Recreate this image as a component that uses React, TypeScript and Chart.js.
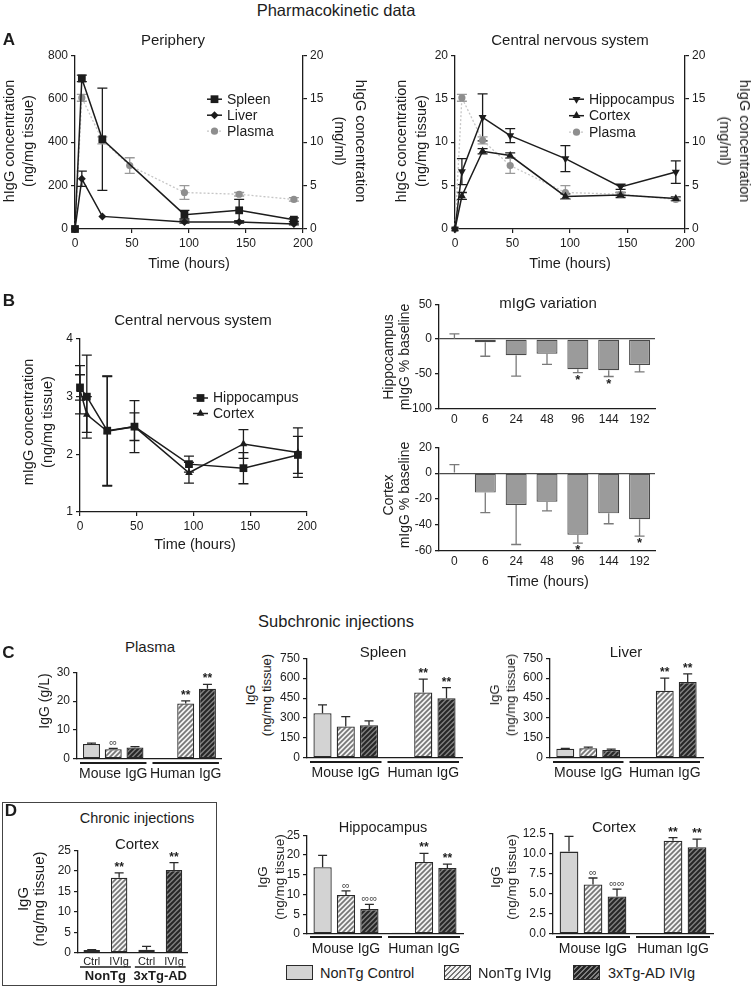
import React, { useEffect, useRef } from 'react';
import { Chart, registerables } from 'chart.js';

Chart.register(...registerables);

const FONT = '"Liberation Sans", Arial, Helvetica, sans-serif';
const INK = '#1c1c1c';

// ---------------- data ----------------
const TIMES = [0, 6, 24, 48, 96, 144, 192];
const TIMES_NO48 = [0, 6, 24, 96, 144, 192];
const TIME_LABELS = ['0', '6', '24', '48', '96', '144', '192'];

// A – periphery, hIgG (ng/mg tissue) and plasma (mg/ml)
const spleenHIgG = [0, 693, 413, 66, 86, 43];
const spleenHIgGErr = [0, 15, 235, 20, 50, 8];
const liverHIgG = [0, 231, 58, 32, 32, 23];
const liverHIgGErr = [0, 35, 0, 5, 5, 4];
const plasmaHIgG = [0, 15.1, 10.2, 7.3, 4.2, 4.0, 3.4];
const plasmaHIgGErr = [0, 0.4, 0.4, 0.9, 0.8, 0.2, 0.2];

// A – central nervous system, hIgG (ng/mg tissue)
const hippoHIgG = [0, 6.6, 12.85, 10.75, 8.1, 4.85, 6.55];
const hippoHIgGErr = [0, 1.5, 2.7, 0.8, 1.5, 0.3, 1.3];
const cortexHIgG = [0, 3.8, 8.95, 8.45, 3.75, 3.9, 3.5];
const cortexHIgGErr = [0, 0.4, 0.3, 0.3, 0.3, 0.3, 0.2];

// B – mIgG (ng/mg tissue)
const hippoMIgG = [3.16, 3.0, 2.41, 2.48, 1.83, 1.76, 1.99];
const hippoMIgGErr = [0.22, 0.72, 0.95, 0.45, 0.14, 0.27, 0.32];
const cortexMIgG = [3.12, 2.69, 2.4, 2.48, 1.68, 2.18, 2.03];
const cortexMIgGErr = [0.42, 0.31, 0.95, 0.24, 0.18, 0.25, 0.43];

// B – mIgG variation (% baseline)
const hippoVar = [0.5, -4.5, -23, -21, -43, -44.5, -37];
const hippoVarErr = [7, 20, 30, 15, 5, 9, 10];
const hippoVarSig = ['', '', '', '', '*', '*', ''];
const cortexVar = [0.5, -15, -24.5, -22, -47.5, -31, -35.5];
const cortexVarErr = [6, 15.5, 30.5, 7, 6.5, 8, 13];
const cortexVarSig = ['', '', '', '', '*', '', '*'];

// C / D – grouped bars: series x [Mouse IgG, Human IgG]
const IGG_GROUPS = ['Mouse IgG', 'Human IgG'];
const SERIES = ['NonTg Control', 'NonTg IVIg', '3xTg-AD IVIg'];

const plasmaVals = [[5.2, 0], [3.4, 19.2], [4.0, 24.3]];
const plasmaErrs = [[0.3, 0], [0.3, 0.9], [0.3, 1.5]];
const plasmaSig = [['', ''], ['∞', '**'], ['', '**']];

const spleenVals = [[336, 0], [237, 493], [247, 449]];
const spleenErrs = [[63, 0], [74, 100], [32, 80]];
const spleenSig = [['', ''], ['', '**'], ['', '**']];

const liverVals = [[69, 3], [74, 505], [61, 571]];
const liverErrs = [[4, 0], [8, 95], [5, 61]];
const liverSig = [['', ''], ['', '**'], ['', '**']];

const hippoVals = [[16.9, 0.3], [9.9, 18.2], [6.3, 16.7]];
const hippoErrs = [[3.0, 0], [1.0, 2.2], [1.2, 1.0]];
const hippoSig = [['', ''], ['∞', '**'], ['∞∞', '**']];

const cortexVals = [[10.3, 0], [6.2, 11.65], [4.7, 10.85]];
const cortexErrs = [[1.9, 0], [0.8, 0.4], [0.9, 1.0]];
const cortexSig = [['', ''], ['∞', '**'], ['∞∞', '**']];

// D – chronic injections, cortex
const CHRONIC_GROUPS = ['NonTg', '3xTg-AD'];
const chronicCtrl = [0.7, 0.8];
const chronicCtrlErr = [0.1, 0.8];
const chronicIvig = [18.3, 20.2];
const chronicIvigErr = [1.2, 1.8];
const chronicIvigSig = ['**', '**'];

// ---------------- drawing helpers ----------------
function makeHatch(bg: string, fg: string, size: number, lw: number) {
  const c = document.createElement('canvas');
  c.width = size;
  c.height = size;
  const g = c.getContext('2d')!;
  g.fillStyle = bg;
  g.fillRect(0, 0, size, size);
  g.strokeStyle = fg;
  g.lineWidth = lw;
  g.beginPath();
  g.moveTo(-1, size + 1);
  g.lineTo(size + 1, -1);
  g.moveTo(-1, 1);
  g.lineTo(1, -1);
  g.moveTo(size - 1, size + 1);
  g.lineTo(size + 1, size - 1);
  g.stroke();
  return g.createPattern(c, 'repeat')!;
}

let FILLS: any = null;
function getFills() {
  if (!FILLS) {
    FILLS = {
      ctrl: '#d3d3d3',
      ctrlDark: '#8a8a8a',
      light: makeHatch('#f2f2f2', '#767676', 5, 1.7),
      dark: makeHatch('#7e7e7e', '#262626', 5, 2),
    };
  }
  return FILLS;
}

function drawMarker(ctx: CanvasRenderingContext2D, style: string, x: number, y: number, r: number, rotDeg: number, fill: string) {
  ctx.save();
  ctx.beginPath();
  const rad = ((rotDeg || 0) * Math.PI) / 180;
  if (style === 'circle') ctx.arc(x, y, r, 0, Math.PI * 2);
  else if (style === 'rect') {
    const s = Math.SQRT1_2 * r;
    ctx.rect(x - s, y - s, 2 * s, 2 * s);
  } else if (style === 'rectRot') {
    ctx.moveTo(x - r, y);
    ctx.lineTo(x, y - r);
    ctx.lineTo(x + r, y);
    ctx.lineTo(x, y + r);
    ctx.closePath();
  } else {
    for (let k = 0; k < 3; k++) {
      const a = rad + (k * 2 * Math.PI) / 3;
      const px = x + Math.sin(a) * r;
      const py = y - Math.cos(a) * r;
      if (k) ctx.lineTo(px, py);
      else ctx.moveTo(px, py);
    }
    ctx.closePath();
  }
  ctx.fillStyle = fill;
  ctx.fill();
  ctx.restore();
}

function valOf(raw: any) {
  return raw != null && typeof raw === 'object' ? raw.y : raw;
}

function drawErrors(chart: any) {
  const ctx = chart.ctx;
  chart.data.datasets.forEach((ds: any, di: number) => {
    if (!ds.errors) return;
    const meta = chart.getDatasetMeta(di);
    const ys = chart.scales[meta.yAxisID];
    ctx.save();
    ctx.strokeStyle = ds.errorColor || INK;
    ctx.lineWidth = ds.errorWidth || 1.3;
    meta.data.forEach((el: any, i: number) => {
      const e = ds.errors[i];
      const v = valOf(ds.data[i]);
      if (v == null || !e) return;
      const cap = ds.capWidth || 10;
      const ends = ds.errorMode === 'out' ? [v >= 0 ? v + e : v - e] : [v + e, v - e];
      ctx.beginPath();
      const y0 = ys.getPixelForValue(v);
      for (const end of ends) {
        const y1 = ys.getPixelForValue(end);
        ctx.moveTo(el.x, y0);
        ctx.lineTo(el.x, y1);
        ctx.moveTo(el.x - cap / 2, y1);
        ctx.lineTo(el.x + cap / 2, y1);
      }
      ctx.stroke();
    });
    ctx.restore();
  });
}

const errorBarPlugin = {
  id: 'errbars',
  beforeDatasetsDraw(chart: any) {
    if (chart.config.type === 'line') drawErrors(chart);
  },
  afterDatasetsDraw(chart: any) {
    if (chart.config.type !== 'line') drawErrors(chart);
  },
};

const marksPlugin = {
  id: 'marks',
  afterDatasetsDraw(chart: any) {
    const ctx = chart.ctx;
    chart.data.datasets.forEach((ds: any, di: number) => {
      if (!ds.marks) return;
      const meta = chart.getDatasetMeta(di);
      const ys = chart.scales[meta.yAxisID];
      meta.data.forEach((el: any, i: number) => {
        const m = ds.marks[i];
        if (!m) return;
        const v = valOf(ds.data[i]);
        const e = (ds.errors && ds.errors[i]) || 0;
        const star = m.indexOf('*') >= 0;
        ctx.save();
        ctx.font = star ? `bold ${ds.starSize || 12}px ${FONT}` : `11px ${FONT}`;
        ctx.fillStyle = star ? INK : '#4a4a4a';
        ctx.textAlign = 'center';
        if (v >= 0) {
          ctx.textBaseline = 'alphabetic';
          ctx.fillText(m, el.x, ys.getPixelForValue(v + e) - 2);
        } else {
          ctx.textBaseline = 'top';
          ctx.fillText(m, el.x, ys.getPixelForValue(v - e) + 1);
        }
        ctx.restore();
      });
    });
  },
};

const groupLinePlugin = {
  id: 'groupLines',
  afterDraw(chart: any, _a: any, o: any) {
    if (!o || o.offset == null) return;
    const ctx = chart.ctx;
    const xs = chart.scales.x;
    const n = xs.ticks.length;
    const w = xs.width / n;
    const y = chart.chartArea.bottom + o.offset;
    ctx.save();
    ctx.strokeStyle = INK;
    ctx.lineWidth = o.width || 2;
    for (let i = 0; i < n; i++) {
      const cx = xs.getPixelForTick(i);
      ctx.beginPath();
      ctx.moveTo(cx - w / 2 + o.inset, y);
      ctx.lineTo(cx + w / 2 - o.inset, y);
      ctx.stroke();
    }
    ctx.restore();
  },
};

const subLabelPlugin = {
  id: 'subLabels',
  afterDraw(chart: any, _a: any, o: any) {
    if (!o || o.offset == null) return;
    const ctx = chart.ctx;
    chart.data.datasets.forEach((ds: any, di: number) => {
      if (!ds.subLabel) return;
      const meta = chart.getDatasetMeta(di);
      meta.data.forEach((el: any) => {
        ctx.save();
        ctx.font = `${o.size}px ${FONT}`;
        ctx.fillStyle = INK;
        ctx.textAlign = 'center';
        ctx.textBaseline = 'middle';
        ctx.fillText(ds.subLabel, el.x, chart.chartArea.bottom + o.offset);
        ctx.restore();
      });
    });
  },
};

const inLegendPlugin = {
  id: 'inLegend',
  afterDraw(chart: any, _a: any, o: any) {
    if (!o || o.x == null) return;
    const { ctx, chartArea } = chart;
    chart.data.datasets.forEach((ds: any, i: number) => {
      const y = chartArea.top + o.y + i * o.dy;
      const x0 = chartArea.left + o.x;
      ctx.save();
      ctx.strokeStyle = ds.borderColor;
      ctx.lineWidth = ds.borderWidth;
      ctx.setLineDash(ds.borderDash || []);
      ctx.beginPath();
      ctx.moveTo(x0, y);
      ctx.lineTo(x0 + o.len, y);
      ctx.stroke();
      ctx.setLineDash([]);
      drawMarker(ctx, ds.pointStyle, x0 + o.len / 2, y, ds.pointRadius, ds.pointRotation, ds.pointBackgroundColor);
      ctx.fillStyle = INK;
      ctx.font = `${o.size}px ${FONT}`;
      ctx.textBaseline = 'middle';
      ctx.textAlign = 'left';
      ctx.fillText(ds.label, x0 + o.len + o.gap, y + 0.5);
      ctx.restore();
    });
  },
};

const PLUGINS = [errorBarPlugin, marksPlugin, groupLinePlugin, subLabelPlugin, inLegendPlugin];

// ---------------- option builders ----------------
const tickFont = () => ({ family: FONT, size: 12 });

function base(padding: any, scales: any, extra: any = {}) {
  return {
    responsive: false,
    animation: false,
    devicePixelRatio: 1,
    events: [],
    layout: { padding: { left: 0, right: 0, top: 0, bottom: 0, ...padding } },
    plugins: { legend: { display: false }, tooltip: { enabled: false }, title: { display: false }, ...extra },
    scales,
  };
}

function linY(min: number, max: number, step: number, width: number, cb?: any, grid?: any) {
  return {
    type: 'linear',
    min,
    max,
    ticks: { stepSize: step, font: tickFont(), color: INK, padding: 3, ...(cb ? { callback: cb } : {}) },
    grid: grid || { drawOnChartArea: false, drawTicks: true, tickLength: 4, color: INK, lineWidth: 1.2 },
    border: { display: true, color: INK, width: 1.3 },
    afterFit: (s: any) => {
      s.width = width;
    },
  };
}

function lineX(height: number) {
  return {
    type: 'linear',
    min: 0,
    max: 200,
    ticks: { stepSize: 50, font: tickFont(), color: INK, padding: 3 },
    grid: { drawOnChartArea: false, drawTicks: true, tickLength: 4, color: INK, lineWidth: 1.2 },
    border: { display: true, color: INK, width: 1.3 },
    afterFit: (s: any) => {
      s.height = height;
    },
  };
}

function catAxis(height: number, font: any, padding: number) {
  return {
    type: 'category',
    ticks: { font, color: INK, padding, maxRotation: 0, minRotation: 0, autoSkip: false },
    grid: { display: false, drawTicks: false, tickLength: 0 },
    border: { display: true, color: INK, width: 1.3 },
    afterFit: (s: any) => {
      s.height = height;
    },
  };
}

function lineDs(label: string, xs: number[], ys: number[], errs: number[], shape: string, r: number, extra: any = {}) {
  return {
    label,
    data: xs.map((x, i) => ({ x, y: ys[i] })),
    errors: errs,
    yAxisID: 'y',
    borderColor: INK,
    backgroundColor: INK,
    pointBackgroundColor: INK,
    pointBorderWidth: 0,
    borderWidth: 1.5,
    pointStyle: shape,
    pointRadius: r,
    pointRotation: 0,
    clip: false,
    tension: 0,
    errorColor: INK,
    capWidth: 10,
    ...extra,
  };
}

const PLASMA_STYLE = {
  yAxisID: 'y2',
  borderColor: '#c6c6c6',
  borderWidth: 1.3,
  borderDash: [2, 2],
  pointBackgroundColor: '#8e8e8e',
  backgroundColor: '#8e8e8e',
  errorColor: '#9a9a9a',
};

const periphery = () => ({
  type: 'line',
  data: {
    datasets: [
      lineDs('Spleen', TIMES_NO48, spleenHIgG, spleenHIgGErr, 'rect', 5.5),
      lineDs('Liver', TIMES_NO48, liverHIgG, liverHIgGErr, 'rectRot', 4),
      lineDs('Plasma', TIMES, plasmaHIgG, plasmaHIgGErr, 'circle', 3.6, PLASMA_STYLE),
    ],
  },
  options: base(
    { top: 10 },
    { x: lineX(51), y: linY(0, 800, 200, 75), y2: { ...linY(0, 20, 5, 73), position: 'right' } },
    { inLegend: { x: 132, y: 44, dy: 16, len: 15, gap: 5, size: 14 } }
  ),
  plugins: PLUGINS,
});

const cnsHuman = () => ({
  type: 'line',
  data: {
    datasets: [
      lineDs('Hippocampus', TIMES, hippoHIgG, hippoHIgGErr, 'triangle', 4.6, { pointRotation: 180 }),
      lineDs('Cortex', TIMES, cortexHIgG, cortexHIgGErr, 'triangle', 4.6),
      lineDs('Plasma', TIMES, plasmaHIgG, plasmaHIgGErr, 'circle', 3.6, PLASMA_STYLE),
    ],
  },
  options: base(
    { top: 10 },
    { x: lineX(51), y: linY(0, 20, 5, 79), y2: { ...linY(0, 20, 5, 67), position: 'right' } },
    { inLegend: { x: 114, y: 44, dy: 16.5, len: 15, gap: 5, size: 14 } }
  ),
  plugins: PLUGINS,
});

const cnsMouse = () => ({
  type: 'line',
  data: {
    datasets: [
      lineDs('Hippocampus', TIMES, hippoMIgG, hippoMIgGErr, 'rect', 5.5),
      lineDs('Cortex', TIMES, cortexMIgG, cortexMIgGErr, 'triangle', 4.4),
    ],
  },
  options: base(
    { top: 14, right: 69 },
    { x: lineX(48), y: linY(1, 4, 1, 80) },
    { inLegend: { x: 113, y: 59, dy: 15.5, len: 15, gap: 5, size: 14 } }
  ),
  plugins: PLUGINS,
});

const zeroGrid = () => ({
  drawOnChartArea: true,
  drawTicks: true,
  tickLength: 4,
  tickColor: INK,
  lineWidth: 1.3,
  color: (c: any) => (c.tick && c.tick.value === 0 ? '#4a4a4a' : 'rgba(0,0,0,0)'),
});

function variation(vals: number[], errs: number[], sig: string[], min: number, max: number, step: number, xHeight: number) {
  return () => ({
    type: 'bar',
    data: {
      labels: TIME_LABELS,
      datasets: [
        {
          label: 'mIgG variation',
          data: vals,
          errors: errs,
          marks: sig,
          starSize: 13,
          backgroundColor: '#9b9b9b',
          borderColor: '#4a4a4a',
          borderWidth: 1.2,
          borderSkipped: false,
          barPercentage: 0.68,
          categoryPercentage: 1,
          errorMode: 'out',
          errorColor: '#7a7a7a',
          capWidth: 10,
        },
      ],
    },
    options: base({ top: 8, right: 11 }, { x: catAxis(xHeight, tickFont(), 3), y: linY(min, max, step, 63, undefined, zeroGrid()) }),
    plugins: PLUGINS,
  });
}

function iggChart(p: { vals: number[][]; errs: number[][]; sig: string[][]; max: number; step: number; yWidth: number; top: number; right: number; xHeight: number; lineOffset: number; cb?: any }) {
  return () => {
    const f = getFills();
    const fills = [f.ctrl, f.light, f.dark];
    return {
      type: 'bar',
      data: {
        labels: IGG_GROUPS,
        datasets: SERIES.map((name, i) => ({
          label: name,
          data: p.vals[i],
          errors: p.errs[i],
          marks: p.sig[i],
          backgroundColor: fills[i],
          borderColor: '#2a2a2a',
          borderWidth: 1.3,
          borderSkipped: false,
          categoryPercentage: 0.9,
          barPercentage: 0.78,
          errorMode: 'out',
          errorColor: '#2a2a2a',
          capWidth: 9,
        })),
      },
      options: base(
        { top: p.top, right: p.right },
        { x: catAxis(p.xHeight, { family: FONT, size: 14 }, 6.5), y: linY(0, p.max, p.step, p.yWidth, p.cb) },
        { groupLines: { offset: p.lineOffset, inset: 3, width: 2 } }
      ),
      plugins: PLUGINS,
    };
  };
}

const chronic = () => {
  const f = getFills();
  const common = { borderColor: '#2a2a2a', borderWidth: 1.3, borderSkipped: false, categoryPercentage: 1, barPercentage: 0.6, errorMode: 'out', errorColor: '#2a2a2a', capWidth: 9 };
  return {
    type: 'bar',
    data: {
      labels: CHRONIC_GROUPS,
      datasets: [
        { label: 'Ctrl', subLabel: 'Ctrl', data: chronicCtrl, errors: chronicCtrlErr, backgroundColor: [f.ctrl, f.ctrlDark], ...common },
        { label: 'IVIg', subLabel: 'IVIg', data: chronicIvig, errors: chronicIvigErr, marks: chronicIvigSig, backgroundColor: [f.light, f.dark], ...common },
      ],
    },
    options: base(
      { top: 10, right: 8 },
      { x: catAxis(32, { family: FONT, size: 13, weight: 'bold' }, 16), y: linY(0, 25, 5, 38) },
      { groupLines: { offset: 14, inset: 2, width: 1.5 }, subLabels: { offset: 9, size: 11 } }
    ),
    plugins: PLUGINS,
  };
};

// ---------------- components ----------------
function ChartCanvas({ box, make }: { box: number[]; make: () => any }) {
  const ref = useRef<HTMLCanvasElement>(null);
  useEffect(() => {
    const chart = new Chart(ref.current as HTMLCanvasElement, make());
    return () => chart.destroy();
  }, []);
  const [l, t, w, h] = box;
  return <canvas ref={ref} width={w} height={h} style={{ position: 'absolute', left: l, top: t, width: w, height: h }} />;
}

function Txt({ x, y, size, bold, rot, lh, children }: any) {
  return (
    <div
      style={{
        position: 'absolute',
        left: x,
        top: y,
        fontSize: size,
        fontWeight: bold ? 700 : 400,
        lineHeight: lh ? `${lh}px` : 1,
        whiteSpace: 'pre',
        textAlign: 'center',
        transform: `translate(-50%, -50%)${rot ? ` rotate(${rot}deg)` : ''}`,
      }}
    >
      {children}
    </div>
  );
}

const LIGHT_CSS = 'repeating-linear-gradient(135deg, #767676 0px, #767676 1.3px, #f2f2f2 1.3px, #f2f2f2 3.5px)';
const DARK_CSS = 'repeating-linear-gradient(135deg, #262626 0px, #262626 1.6px, #7e7e7e 1.6px, #7e7e7e 3.5px)';

function LegendItem({ x, box, label, bg }: any) {
  return (
    <>
      <div style={{ position: 'absolute', left: box, top: 965, width: 27, height: 15, background: bg, border: '1.3px solid #2a2a2a', boxSizing: 'border-box' }} />
      <div style={{ position: 'absolute', left: x, top: 972.5, transform: 'translateY(-50%)', fontSize: 14.5, lineHeight: 1, whiteSpace: 'pre' }}>{label}</div>
    </>
  );
}

const plasmaChart = iggChart({ vals: plasmaVals, errs: plasmaErrs, sig: plasmaSig, max: 30, step: 10, yWidth: 57, top: 9, right: 8, xHeight: 25, lineOffset: 4 });
const spleenChart = iggChart({ vals: spleenVals, errs: spleenErrs, sig: spleenSig, max: 750, step: 150, yWidth: 32, top: 9, right: 8, xHeight: 26, lineOffset: 4 });
const liverChart = iggChart({ vals: liverVals, errs: liverErrs, sig: liverSig, max: 750, step: 150, yWidth: 32, top: 9, right: 7, xHeight: 26, lineOffset: 4 });
const hippoChart = iggChart({ vals: hippoVals, errs: hippoErrs, sig: hippoSig, max: 25, step: 5, yWidth: 32, top: 9, right: 7, xHeight: 26, lineOffset: 3 });
const cortexChart = iggChart({
  vals: cortexVals,
  errs: cortexErrs,
  sig: cortexSig,
  max: 12.5,
  step: 2.5,
  yWidth: 35,
  top: 12,
  right: 5,
  xHeight: 26,
  lineOffset: 3,
  cb: (v: any) => Number(v).toFixed(1),
});
const hippoVarChart = variation(hippoVar, hippoVarErr, hippoVarSig, -100, 50, 50, 22);
const cortexVarChart = variation(cortexVar, cortexVarErr, cortexVarSig, -60, 20, 20, 39);

export default function App() {
  return (
    <div style={{ position: 'absolute', left: 0, top: 0, width: 752, height: 988, background: '#fff', overflow: 'hidden', fontFamily: FONT, color: INK }}>
      <div style={{ position: 'absolute', left: 2, top: 802, width: 215, height: 184, border: '1.5px solid #444', boxSizing: 'border-box' }} />

      <ChartCanvas box={[0, 45, 376, 235]} make={periphery} />
      <ChartCanvas box={[376, 45, 376, 235]} make={cnsHuman} />
      <ChartCanvas box={[0, 325, 376, 235]} make={cnsMouse} />
      <ChartCanvas box={[376, 294, 290, 137]} make={hippoVarChart} />
      <ChartCanvas box={[376, 437, 290, 153]} make={cortexVarChart} />
      <ChartCanvas box={[20, 662, 210, 122]} make={plasmaChart} />
      <ChartCanvas box={[275, 648, 195, 136]} make={spleenChart} />
      <ChartCanvas box={[518, 648, 192, 136]} make={liverChart} />
      <ChartCanvas box={[40, 840, 165, 145]} make={chronic} />
      <ChartCanvas box={[275, 825, 195, 135]} make={hippoChart} />
      <ChartCanvas box={[518, 822, 200, 138]} make={cortexChart} />

      <Txt x={336} y={10} size={16.5}>Pharmacokinetic data</Txt>
      <Txt x={9} y={39} size={17} bold>A</Txt>
      <Txt x={173} y={39} size={15}>Periphery</Txt>
      <Txt x={570} y={39} size={15}>Central nervous system</Txt>
      <Txt x={19} y={141} size={14.5} rot={-90} lh={19}>{'hIgG concentration\n(ng/mg tissue)'}</Txt>
      <Txt x={350} y={141} size={14.5} rot={90} lh={21}>{'hIgG concentration\n(mg/ml)'}</Txt>
      <Txt x={411} y={141} size={14.5} rot={-90} lh={20}>{'hIgG concentration\n(ng/mg tissue)'}</Txt>
      <Txt x={735} y={141} size={14.5} rot={90} lh={20}>{'hIgG concentration\n(mg/ml)'}</Txt>
      <Txt x={189} y={263} size={14.5}>Time (hours)</Txt>
      <Txt x={570} y={263} size={14.5}>Time (hours)</Txt>

      <Txt x={9} y={300} size={17} bold>B</Txt>
      <Txt x={193} y={319} size={15}>Central nervous system</Txt>
      <Txt x={37.5} y={422} size={14.5} rot={-90} lh={19}>{'mIgG concentration\n(ng/mg tissue)'}</Txt>
      <Txt x={195} y={544} size={14.5}>Time (hours)</Txt>
      <Txt x={548} y={302} size={15}>mIgG variation</Txt>
      <Txt x={396} y={357} size={14} rot={-90} lh={16}>{'Hippocampus\nmIgG % baseline'}</Txt>
      <Txt x={396} y={495} size={14} rot={-90} lh={16}>{'Cortex\nmIgG % baseline'}</Txt>
      <Txt x={548} y={581} size={14.5}>Time (hours)</Txt>

      <Txt x={336} y={621} size={16.5}>Subchronic injections</Txt>
      <Txt x={8.5} y={652} size={17} bold>C</Txt>
      <Txt x={150} y={646} size={15}>Plasma</Txt>
      <Txt x={383} y={651} size={15}>Spleen</Txt>
      <Txt x={626} y={651} size={15}>Liver</Txt>
      <Txt x={44} y={701} size={14} rot={-90}>IgG (g/L)</Txt>
      <Txt x={258.5} y={695} size={13} rot={-90} lh={16}>{'IgG\n(ng/mg tissue)'}</Txt>
      <Txt x={503} y={695} size={13} rot={-90} lh={16}>{'IgG\n(ng/mg tissue)'}</Txt>

      <Txt x={11} y={810} size={17} bold>D</Txt>
      <Txt x={137} y={818} size={14.5}>Chronic injections</Txt>
      <Txt x={137} y={843} size={15}>Cortex</Txt>
      <Txt x={30.5} y={899} size={15} rot={-90} lh={16}>{'IgG\n(ng/mg tissue)'}</Txt>
      <Txt x={383} y={827} size={14.5}>Hippocampus</Txt>
      <Txt x={614} y={826} size={15}>Cortex</Txt>
      <Txt x={270.5} y={877} size={13.5} rot={-90} lh={17}>{'IgG\n(ng/mg tissue)'}</Txt>
      <Txt x={504} y={877} size={13.5} rot={-90} lh={16}>{'IgG\n(ng/mg tissue)'}</Txt>

      <LegendItem box={286} x={320} label="NonTg Control" bg="#d3d3d3" />
      <LegendItem box={444} x={478} label="NonTg IVIg" bg={LIGHT_CSS} />
      <LegendItem box={573} x={608} label="3xTg-AD IVIg" bg={DARK_CSS} />
    </div>
  );
}
